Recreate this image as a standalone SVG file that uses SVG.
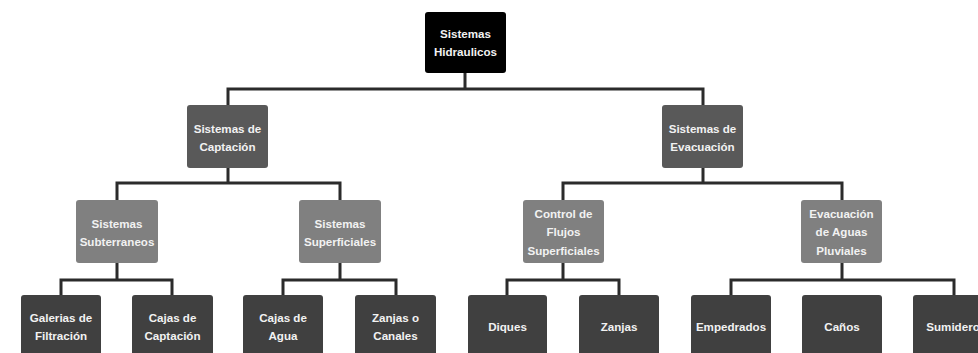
<svg xmlns="http://www.w3.org/2000/svg" width="978" height="353" viewBox="0 0 978 353">
<style>
.box{stroke:none}
.l0{fill:#000}
.l1{fill:#595959}
.l2{fill:#808080}
.l3{fill:#404040}
text{font-family:"Liberation Sans",Arial,sans-serif;font-size:11.6px;font-weight:bold;fill:#f2f2f2;text-anchor:middle;dominant-baseline:central}
.c{fill:none;stroke:#2b2b2b;stroke-width:3;stroke-linejoin:miter;stroke-linecap:square}
</style>
<rect width="978" height="353" fill="#fff"/>
<g id="connectors">
<path class="c" d="M465,73V89M228,105V89H703V105"/>
<path class="c" d="M228,168V183M117,200V183H340V200"/>
<path class="c" d="M703,168V183M563,200V183H842V200"/>
<path class="c" d="M117,263V280M61,295V280H172V295"/>
<path class="c" d="M340,263V280M283,295V280H396V295"/>
<path class="c" d="M563,263V280M507,295V280H619V295"/>
<path class="c" d="M842,263V280M731,295V280H954V295"/>
</g>
<g id="root"><rect class="box l0" x="425" y="12" width="81" height="61" rx="3"/><text x="465.5" y="33">Sistemas</text><text x="465.5" y="51">Hidraulicos</text></g>
<g id="captacion"><rect class="box l1" x="187" y="105" width="81" height="63" rx="3"/><text x="227.5" y="128">Sistemas de</text><text x="227.5" y="146">Captación</text></g>
<g id="evacuacion"><rect class="box l1" x="662" y="105" width="81" height="63" rx="3"/><text x="702.5" y="128">Sistemas de</text><text x="702.5" y="146">Evacuación</text></g>
<g id="subterraneos"><rect class="box l2" x="76" y="200" width="82" height="63" rx="3"/><text x="117" y="223">Sistemas</text><text x="117" y="241">Subterraneos</text></g>
<g id="superficiales"><rect class="box l2" x="299" y="200" width="82" height="63" rx="3"/><text x="340" y="223">Sistemas</text><text x="340" y="241">Superficiales</text></g>
<g id="control"><rect class="box l2" x="523" y="200" width="81" height="63" rx="3"/><text x="563.5" y="213">Control de</text><text x="563.5" y="231.5">Flujos</text><text x="563.5" y="250">Superficiales</text></g>
<g id="pluviales"><rect class="box l2" x="801" y="200" width="81" height="63" rx="3"/><text x="841.5" y="213">Evacuación</text><text x="841.5" y="231.5">de Aguas</text><text x="841.5" y="250">Pluviales</text></g>
<g id="galerias"><rect class="box l3" x="21" y="295" width="80" height="64" rx="3"/><text x="61" y="317">Galerias de</text><text x="61" y="335">Filtración</text></g>
<g id="cajascaptacion"><rect class="box l3" x="132" y="295" width="81" height="64" rx="3"/><text x="172.5" y="317">Cajas de</text><text x="172.5" y="335">Captación</text></g>
<g id="cajasagua"><rect class="box l3" x="243" y="295" width="80" height="64" rx="3"/><text x="283" y="317">Cajas de</text><text x="283" y="335">Agua</text></g>
<g id="zanjascanales"><rect class="box l3" x="355" y="295" width="81" height="64" rx="3"/><text x="395.5" y="317">Zanjas o</text><text x="395.5" y="335">Canales</text></g>
<g id="diques"><rect class="box l3" x="468" y="295" width="79" height="64" rx="3"/><text x="507.5" y="326">Diques</text></g>
<g id="zanjas"><rect class="box l3" x="579" y="295" width="80" height="64" rx="3"/><text x="619" y="326">Zanjas</text></g>
<g id="empedrados"><rect class="box l3" x="691" y="295" width="80" height="64" rx="3"/><text x="731" y="326">Empedrados</text></g>
<g id="canos"><rect class="box l3" x="802" y="295" width="80" height="64" rx="3"/><text x="842" y="326">Caños</text></g>
<g id="sumidero"><rect class="box l3" x="913" y="295" width="80" height="64" rx="3"/><text x="953" y="326">Sumidero</text></g>
</svg>
